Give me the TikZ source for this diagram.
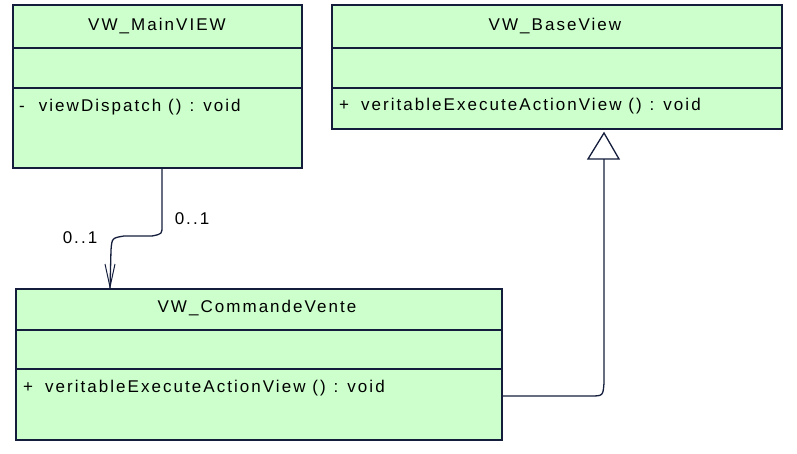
\documentclass[tikz,border=0pt]{standalone}
\usepackage{fontspec}
\setmainfont{Liberation Sans}[LetterSpace=12]
\definecolor{umlgreen}{RGB}{204,255,204}
\definecolor{umlline}{RGB}{20,30,60}
\begin{document}
\begin{tikzpicture}[x=1pt,y=-1pt,
  cls/.style={draw=umlline,line width=1.3pt,fill=umlgreen},
  sep/.style={draw=umlline,line width=1.1pt},
  txt/.style={font=\fontsize{17}{19}\selectfont,inner sep=0pt},
  conn/.style={draw=umlline,line width=1.3pt}]
\useasboundingbox (0,0) rectangle (797,454);
% MainVIEW
\draw[cls] (13,5) rectangle (302,168);
\draw[sep] (13,48) -- (302,48); \draw[sep] (13,88) -- (302,88);
\node[txt] (mvt) at (157,26) {VW\_MainVIEW};
\node[txt,anchor=west] (mvm) at (19,107) {-\hspace{14pt}viewDispatch ()\hspace{8pt}: void};
\coordinate (mvb) at (162,168);
% BaseView
\draw[cls] (332,5) rectangle (782,129);
\draw[sep] (332,48) -- (782,48); \draw[sep] (332,88) -- (782,88);
\node[txt] (bvt) at (555,26) {VW\_BaseView};
\node[txt,anchor=west] (bvm) at (339,106) {+\hspace{12pt}veritableExecuteActionView ()\hspace{8pt}: void};
% CommandeVente
\draw[cls] (16,289) rectangle (502,440);
\draw[sep] (16,330) -- (502,330); \draw[sep] (16,369) -- (502,369);
\node[txt] (cvt) at (257,308) {VW\_CommandeVente};
\node[txt,anchor=west] (cvm) at (23,388) {+\hspace{12pt}veritableExecuteActionView ()\hspace{8pt}: void};
\coordinate (cvt1) at (110,289);
\coordinate (cvr) at (502,396);
% association
\draw[conn] (mvb) -- (162,226) .. controls (162,234) .. (152,236) -- (124,236)
  .. controls (112,238) .. (111,250) -- (cvt1);
\draw[conn,line width=1pt] (105,264) -- (110,287) -- (115,264);
\node[txt] (l1) at (192,219) {0..1};
\node[txt] (l2) at (80,238) {0..1};
% inheritance
\coordinate (tri) at (604,133);
\draw[conn] (cvr) -- (590,396) .. controls (603,396) .. (604,383) -- (604,159);
\draw[conn,fill=white] (tri) -- (619,159) -- (588,159) -- cycle;
\end{tikzpicture}
\end{document}
